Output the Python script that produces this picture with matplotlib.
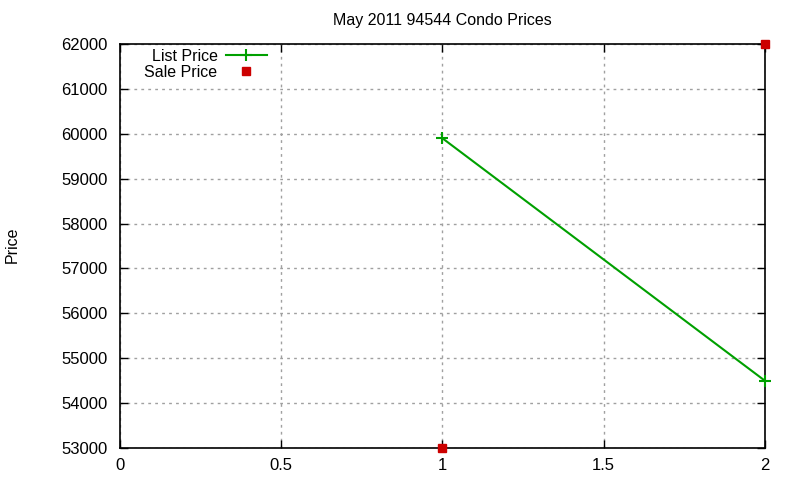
import matplotlib
matplotlib.use("Agg")
import matplotlib.pyplot as plt

plt.rcParams['font.family'] = ['Liberation Sans', 'DejaVu Sans']

list_x = [1, 2]
list_price = [59900, 54500]
sale_x = [1, 2]
sale_price = [53000, 62000]
xticks = [0, 0.5, 1, 1.5, 2]
xticklabels = ["0", "0.5", "1", "1.5", "2"]
yticks = list(range(53000, 62001, 1000))

fig = plt.figure(figsize=(8, 4.8), dpi=100)
ax = fig.add_axes([0.15, 0.0667, 0.806, 0.8417])

ax.plot(list_x, list_price, color='#00a000', lw=1.5, marker='+', ms=8, mew=1.5,
        label='List Price', clip_on=False, zorder=3)
ax.plot(sale_x, sale_price, color='#cc0000', ls='none', marker='s', ms=6,
        label='Sale Price', clip_on=False, zorder=4)

ax.set_xlim(0, 2)
ax.set_ylim(53000, 62000)
ax.set_xticks(xticks)
ax.set_xticklabels(xticklabels)
ax.set_yticks(yticks)
ax.tick_params(direction='in', length=6, width=1, labelsize=12, top=True, right=True,
               pad=9, colors='black')
ax.tick_params(axis='x', pad=7)
ax.grid(True, color='#a0a0a0', ls=(0, (2, 3)), lw=1)
for s in ax.spines.values():
    s.set_linewidth(1.2)

ax.set_title('May 2011 94544 Condo Prices', fontsize=11.5, pad=14)
fig.text(12 / 800, 1 - 245 / 480, 'Price', rotation=90, fontsize=11.5,
         ha='center', va='center')

leg = ax.legend(loc='upper left', bbox_to_anchor=(0.023, 1.012), frameon=False, fontsize=11.5,
                markerfirst=False, handlelength=2.6, borderaxespad=0.2,
                labelspacing=0.05, handletextpad=0.5)
for t in leg.get_texts():
    t.set_ha('right')
leg._legend_box.align = 'right'

fig.savefig('out.png', dpi=100)
